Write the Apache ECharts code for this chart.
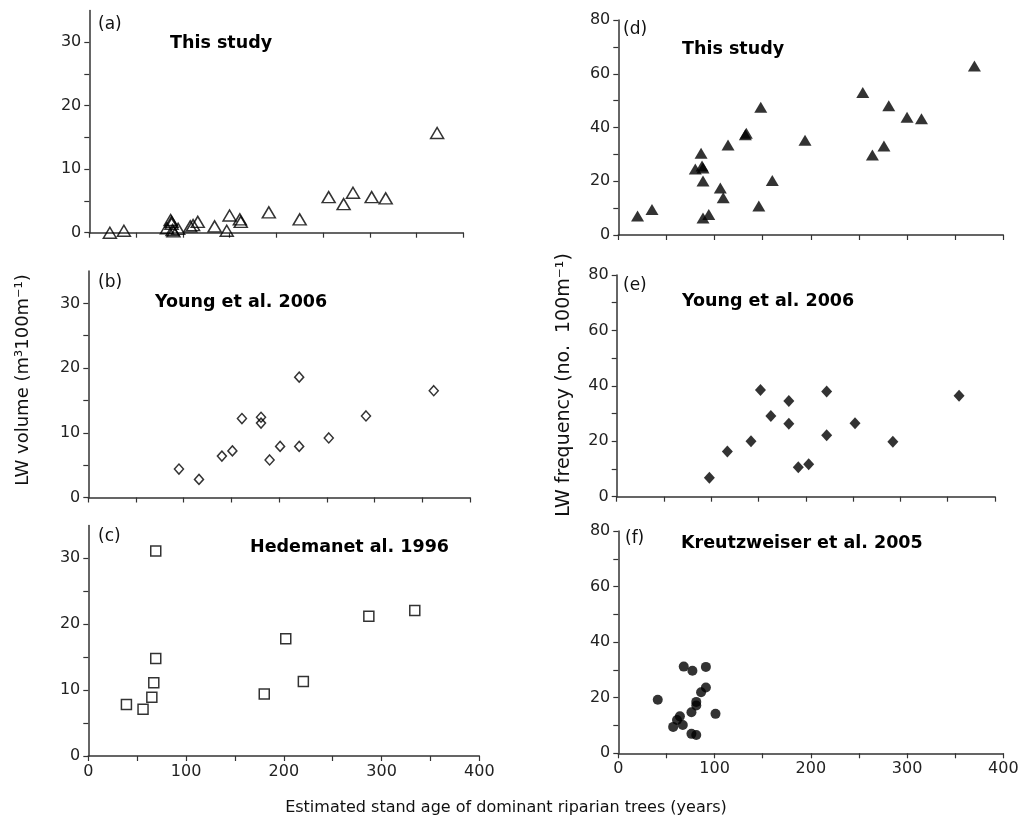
<!DOCTYPE html>
<html><head><meta charset="utf-8">
<script src="https://cdn.jsdelivr.net/npm/echarts@6/dist/echarts.min.js"></script>
<style>html,body{margin:0;padding:0;background:#fff}#c{width:1028px;height:822px}</style>
</head><body><div id="c"></div>
<script>
// ---- data (x = stand age in years, y = value) ----
const panelLabels = ['(a)', '(b)', '(c)', '(d)', '(e)', '(f)'];
const panelTitles = ['This study', 'Young et al. 2006', 'Hedemanet al. 1996', 'This study', 'Young et al. 2006', 'Kreutzweiser et al. 2005'];
const xTickLabels = [0, 100, 200, 300, 400];
const xTickMarks = [0, 50, 100, 150, 200, 250, 300, 350, 400];
const volTickLabels = [0, 10, 20, 30];
const volTickMarks = [0, 5, 10, 15, 20, 25, 30];
const freqTickLabels = [0, 20, 40, 60, 80];
const freqTickMarks = [0, 10, 20, 30, 40, 50, 60, 70, 80];
const xAxisTitle = 'Estimated stand age of dominant riparian trees (years)';
const volAxisTitle = 'LW volume (m\u00B3100m\u207B\u00B9)';
const freqAxisTitle = 'LW frequency (no.  100m\u207B\u00B9)';

const volThisStudy = [[22,0],[37,0.3],[83,0.7],[87,2.0],[88,1.7],[88,1.4],[89,0.4],[90,0.2],[95,0.6],[108,1.0],[111,1.2],[116,1.7],[134,1.0],[147,0.3],[150,2.7],[161,2.1],[162,1.7],[192,3.2],[225,2.1],[256,5.6],[272,4.5],[282,6.3],[302,5.6],[317,5.4],[372,15.7]];
const volYoung = [[95,4.4],[116,2.8],[140,6.4],[151,7.2],[161,12.2],[181,12.4],[181,11.5],[190,5.8],[201,7.9],[221,18.6],[221,7.9],[252,9.2],[291,12.6],[362,16.5]];
const volHedeman = [[39,7.8],[56,7.1],[65,8.9],[67,11.1],[69,14.8],[69,31.1],[180,9.4],[202,17.8],[220,11.3],[287,21.2],[334,22.1]];
const freqThisStudy = [[20,7.1],[35,9.5],[80,24.6],[86,30.4],[87,25.7],[88,24.9],[88,20.1],[88,6.3],[94,7.6],[106,17.5],[109,13.9],[114,33.5],[132,37.3],[133,37.9],[146,10.8],[148,47.5],[160,20.3],[194,35.3],[254,53],[264,29.8],[276,33.1],[281,48.1],[300,43.8],[315,43.3],[370,62.9]];
const freqYoung = [[98,6.8],[117,16.3],[142,20.0],[152,38.5],[163,29.1],[182,34.5],[182,26.3],[192,10.6],[203,11.7],[222,38.0],[222,22.2],[252,26.5],[292,19.8],[362,36.4]];
const freqKreutz = [[41,19.3],[57,9.5],[61,12],[64,13.3],[67,10.2],[68,31.2],[77,29.7],[76,14.8],[76,7.0],[81,6.6],[81,18.5],[81,17.2],[86,22],[91,23.7],[91,31.1],[101,14.2]];

// ---- layout & style ----
const FONT = '"DejaVu Sans", "Liberation Sans", sans-serif';
const AX = '#333';
const grids = [
  {left: 89.3, top: 10.4, width: 374, height: 222.3},
  {left: 88.3, top: 271, width: 381.7, height: 226.5},
  {left: 88.3, top: 525.4, width: 391, height: 230.6},
  {left: 618.3, top: 20, width: 385, height: 215},
  {left: 616.7, top: 275, width: 378.3, height: 221.7},
  {left: 618.3, top: 531, width: 385, height: 222.3}
];
const datasets = [volThisStudy, volYoung, volHedeman, freqThisStudy, freqYoung, freqKreutz];
const symbols = [
  {symbol: 'triangle', size: [13, 11], filled: false},
  {symbol: 'diamond', size: [9, 10], filled: false},
  {symbol: 'rect', size: [10, 10], filled: false},
  {symbol: 'triangle', size: [13, 11], filled: true},
  {symbol: 'diamond', size: [11, 12], filled: true},
  {symbol: 'circle', size: [10, 10], filled: true}
];
const labelPos = [[98,25],[98,283],[98,537],[623,30],[623,286],[625,539]];
const titlePos = [[170,43],[155,302],[250,547],[682,49],[682,301],[681,543]];

const axisLine = {show: true, lineStyle: {color: AX, width: 1.5}};
const tickStyle = {color: AX, width: 1.2};

const xAxes = [], yAxes = [], series = [], graphics = [];
for (let i = 0; i < 6; i++) {
  const right = i >= 3;
  xAxes.push({
    type: 'value', gridIndex: i, min: 0, max: 400, interval: 50,
    axisLine, splitLine: {show: false},
    axisTick: {show: true, inside: false, length: 5, lineStyle: tickStyle, customValues: xTickMarks},
    axisLabel: {
      show: i === 2 || i === 5, margin: 8, fontSize: 16, color: '#222', fontFamily: FONT,
      customValues: xTickLabels
    }
  });
  yAxes.push({
    type: 'value', gridIndex: i, min: 0, max: right ? 80 : 35, interval: right ? 10 : 5,
    axisLine, splitLine: {show: false},
    axisTick: {show: true, inside: false, length: 5, lineStyle: tickStyle, customValues: right ? freqTickMarks : volTickMarks},
    axisLabel: {
      margin: 8, fontSize: 16, color: '#222', fontFamily: FONT,
      customValues: right ? freqTickLabels : volTickLabels
    }
  });
  const s = symbols[i];
  series.push({
    type: 'scatter', xAxisIndex: i, yAxisIndex: i, data: datasets[i],
    symbol: s.symbol, symbolSize: s.size,
    itemStyle: s.filled ? {color: '#000'} : {color: 'rgba(0,0,0,0)', borderColor: '#000', borderWidth: 1.5},
    emphasis: {disabled: true}, silent: true
  });
  graphics.push({
    type: 'text', x: labelPos[i][0], y: labelPos[i][1],
    style: {text: panelLabels[i], font: '17px ' + FONT, fill: '#111', textAlign: 'left', textVerticalAlign: 'middle'}
  });
  graphics.push({
    type: 'text', x: titlePos[i][0], y: titlePos[i][1],
    style: {text: panelTitles[i], font: 'bold 17.5px ' + FONT, fill: '#000', textAlign: 'left', textVerticalAlign: 'middle'}
  });
}
graphics.push({
  type: 'text', x: 506, y: 808,
  style: {text: xAxisTitle, font: '16px ' + FONT, fill: '#111', textAlign: 'center', textVerticalAlign: 'middle'}
});
graphics.push({
  type: 'text', x: 23, y: 380, rotation: Math.PI / 2,
  style: {text: volAxisTitle, font: '18px ' + FONT, fill: '#111', textAlign: 'center', textVerticalAlign: 'middle'}
});
graphics.push({
  type: 'text', x: 564, y: 385, rotation: Math.PI / 2,
  style: {text: freqAxisTitle, font: '19px ' + FONT, fill: '#111', textAlign: 'center', textVerticalAlign: 'middle'}
});

const chart = echarts.init(document.getElementById('c'), null, {renderer: 'canvas'});
chart.setOption({
  animation: false,
  backgroundColor: '#fff',
  grid: grids.map(g => Object.assign({containLabel: false}, g)),
  xAxis: xAxes,
  yAxis: yAxes,
  series: series,
  graphic: graphics
});
</script>
</body></html>
